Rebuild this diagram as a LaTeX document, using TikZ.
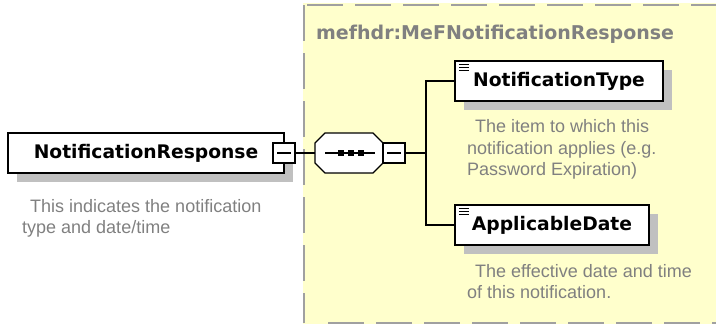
\documentclass[tikz,border=0pt]{standalone}
\usepackage{fontspec}
\setmainfont{DejaVu Sans}
\newfontfamily\descfont{Liberation Sans}
\usetikzlibrary{shadows}
\definecolor{yel}{RGB}{255,255,204}
\definecolor{bordergray}{RGB}{160,160,160}
\definecolor{txtgray}{RGB}{128,128,128}
\definecolor{shgray}{RGB}{192,192,192}
\begin{document}
\begin{tikzpicture}[x=1pt,y=1pt,
  elem/.style={draw=black, line width=1.6pt, fill=white, minimum height=40pt, inner sep=0pt,
    font=\bfseries\fontsize{18.7}{22}\selectfont,
    drop shadow={shadow xshift=9pt, shadow yshift=-9pt, fill=shgray, opacity=1}},
  minusbox/.style={draw=black, line width=1.4pt, fill=white, minimum width=22pt, minimum height=20pt, inner sep=0pt},
  conn/.style={draw=black, line width=1.4pt},
  desc/.style={anchor=base west, inner sep=0pt, text=txtgray, font=\descfont\fontsize{18}{21}\selectfont},
  frame/.style={draw=bordergray, line width=2pt, dash pattern=on 36pt off 12pt},
  dot/.style={fill=black, minimum size=6pt, inner sep=0pt}
]
\useasboundingbox (0,0) rectangle (716,-325);
% yellow complex type area
\fill[yel] (303,-3) rectangle (716,-324);
\draw[frame] (307,-5) -- (730,-5);
\draw[frame] (304,-5) -- (304,-323);
\draw[frame] (328,-323) -- (730,-323);
\node[anchor=base west, inner sep=0pt, text=txtgray, font=\bfseries\fontsize{19}{22}\selectfont] (title) at (316,-39) {mefhdr:MeFNotificationResponse};

% root element
\node[elem, minimum width=276pt] (nr) at (146,-153) {NotificationResponse};
\node[minusbox] (nrm) at (284,-153) {};
\draw[line width=1.4pt] ([xshift=-7pt]nrm.center) -- ([xshift=7pt]nrm.center);
\node[desc] (nrd1) at (30,-212) {This indicates the notification};
\node[desc] (nrd2) at (22,-233) {type and date/time};

% sequence compositor
\node[minimum width=68pt, minimum height=40pt, inner sep=0pt, outer sep=0pt] (seq) at (349,-153) {};
\fill[shgray, shift={(10,-10)}] (seq.west) -- ++(0,10) -- ++(10,10) -- ++(48,0) -- ++(10,-10) -- ++(0,-20) -- ++(-10,-10) -- ++(-48,0) -- ++(-10,10) -- cycle;
\filldraw[fill=white, draw=black, line width=1.4pt, line join=miter] (seq.west) -- ++(0,10) -- ++(10,10) -- ++(48,0) -- ++(10,-10) -- ++(0,-20) -- ++(-10,-10) -- ++(-48,0) -- ++(-10,10) -- cycle;
\draw[line width=1.4pt] ([xshift=-24pt]seq.center) -- ([xshift=26pt]seq.center);
\node[dot] (d1) at (341,-153) {};
\node[dot] (d2) at (351,-153) {};
\node[dot] (d3) at (361,-153) {};
\node[minusbox] (seqm) at (394,-153) {};
\draw[line width=1.4pt] ([xshift=-7pt]seqm.center) -- ([xshift=7pt]seqm.center);

% child elements
\node[elem, minimum width=208pt] (nt) at (559,-81) {NotificationType};
\node[elem, minimum width=194pt] (ad) at (552,-225) {ApplicableDate};
\foreach \n in {nt,ad}{
  \foreach \d in {4,7,10}{
    \draw[line width=1pt] ([xshift=5pt,yshift=-\d pt]\n.north west) -- ++(10,0);
  }
}
\node[desc] (ntd1) at (475,-132) {The item to which this};
\node[desc] (ntd2) at (467,-154) {notification applies (e.g.};
\node[desc] (ntd3) at (467,-175) {Password Expiration)};
\node[desc] (add1) at (475,-277) {The effective date and time};
\node[desc] (add2) at (467,-298) {of this notification.};

% connectors
\coordinate (j) at (426,-153);
\draw[conn] (nrm.east) -- (seq.west);
\draw[conn] (seqm.east) -- (j);
\draw[conn] (j) |- (nt.west);
\draw[conn] (j) |- (ad.west);
\end{tikzpicture}
\end{document}
